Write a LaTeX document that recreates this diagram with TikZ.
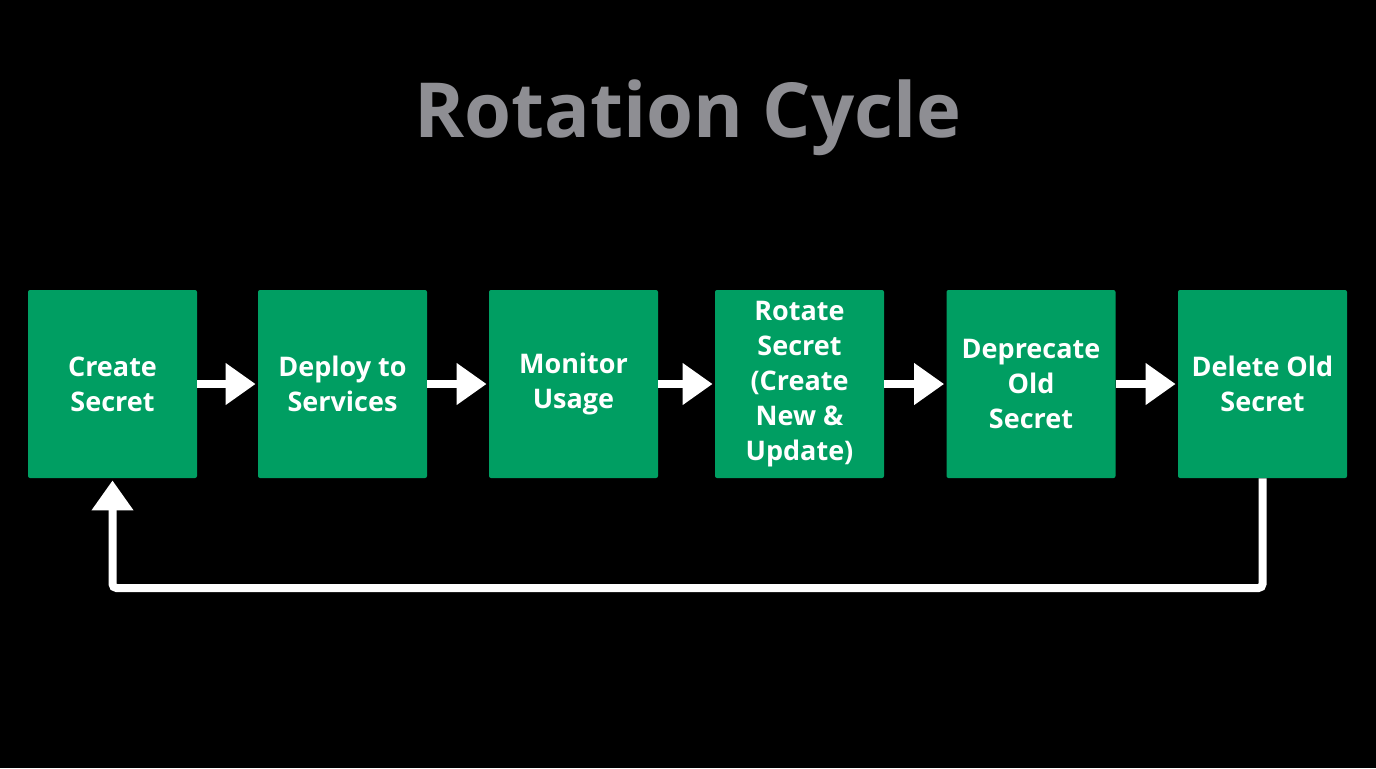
\documentclass[tikz,border=0pt]{standalone}
\usepackage{fontspec}
\setmainfont{Open Sans}
\usetikzlibrary{arrows.meta}
\definecolor{bx}{RGB}{0,158,98}
\definecolor{tt}{RGB}{142,142,147}
\begin{document}
\begin{tikzpicture}[x=0.5pt,y=-0.5pt,
  box/.style={fill=bx,draw=none,rounded corners=1pt,minimum width=84.5pt,minimum height=94pt,align=center,text=white,font=\fontsize{13.5}{17.5}\selectfont\bfseries,inner sep=0pt},
  arr/.style={draw=white,line width=4pt,-{Triangle[length=15pt,width=20pt]},shorten >=1pt}]
\fill[black] (0,0) rectangle (1376,768);
\useasboundingbox (0,0) rectangle (1376,768);
\node[text=tt,font=\fontsize{38}{40}\selectfont\bfseries] (title) at (688,118) {Rotation Cycle};
\node[box] (b1) at (112.5,384) {Create\\Secret};
\node[box] (b2) at (342.5,384) {Deploy to\\Services};
\node[box] (b3) at (573.5,384) {Monitor\\Usage};
\node[box] (b4) at (799.5,384) {Rotate\\Secret\\(Create\\New \&\\Update)};
\node[box] (b5) at (1031,384) {Deprecate\\Old\\Secret};
\node[box] (b6) at (1262.5,384) {Delete Old\\Secret};
\draw[arr] (b1) -- (b2);
\draw[arr] (b2) -- (b3);
\draw[arr] (b3) -- (b4);
\draw[arr] (b4) -- (b5);
\draw[arr] (b5) -- (b6);
\coordinate (c1) at (1262.5,588);
\coordinate (c2) at (112.5,588);
\draw[arr,rounded corners=2pt] (b6.south) -- (c1) -- (c2) -- (b1.south);
\end{tikzpicture}
\end{document}
